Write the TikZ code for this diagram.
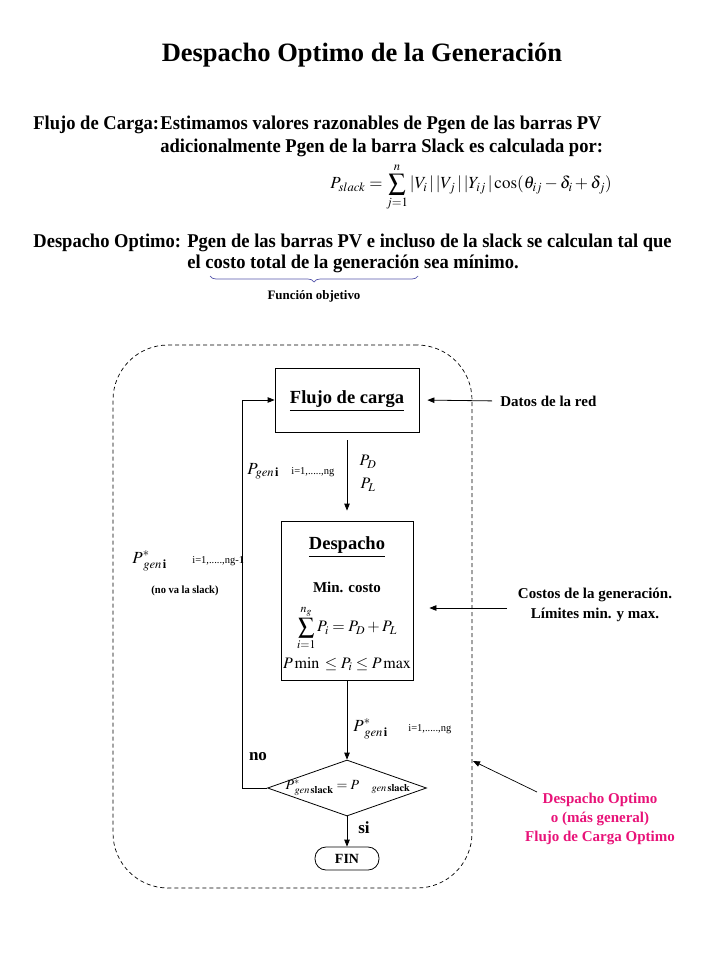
\documentclass[tikz,border=0pt]{standalone}
\usepackage{mathptmx}
\usepackage{fontspec}
\setmainfont{Liberation Serif}
\newfontfamily\cond[FakeStretch=0.95]{Liberation Serif}
\usetikzlibrary{arrows.meta,decorations.pathreplacing,shapes.geometric}
\definecolor{pinkc}{RGB}{232,18,120}
\definecolor{bracec}{RGB}{85,85,170}
\begin{document}
\begin{tikzpicture}[x=1pt,y=-1pt,line width=0.8pt,
  >={Triangle[length=7pt,width=5.5pt]},
  body/.style={font=\cond\bfseries\fontsize{19.5}{22}\selectfont,inner sep=0pt,anchor=base west},
  lab/.style={font=\bfseries\fontsize{15}{18}\selectfont,inner sep=0pt},
  boxt/.style={font=\bfseries\fontsize{18.5}{22}\selectfont,inner sep=0pt},
  mth/.style={font=\fontsize{16}{19}\selectfont,inner sep=0pt},
  rng/.style={font=\fontsize{10.5}{12}\selectfont,inner sep=0pt,anchor=base west}
]
\useasboundingbox (0,0) rectangle (720,960);

% title
\node[font=\bfseries\fontsize{26.5}{30}\selectfont,inner sep=0pt] (title) at (362,55) {Despacho Optimo de la Generación};

% Flujo de carga text
\node[body] (fc) at (33,130) {Flujo de Carga:};
\node[body] (fc1) at (160,130) {Estimamos valores razonables de Pgen de las barras PV};
\node[body] (fc2) at (160,153) {adicionalmente Pgen de la barra Slack es calculada por:};
\node[font=\fontsize{17}{20}\selectfont,inner sep=0pt] (eq) at (471,187) {$\displaystyle P_{slack}=\sum_{j=1}^{n}|V_i\,|\,|V_j\,|\,|Y_{ij}\,|\cos(\theta_{ij}-\delta_i+\delta_j)$};

% Despacho optimo text
\node[body] (do) at (33,247) {Despacho Optimo:};
\node[body] (do1) at (187,247) {Pgen de las barras PV e incluso de la slack se calculan tal que};
\node[body] (do2) at (187,268) {el costo total de la generación sea mínimo.};
\coordinate (bra) at (210,276);
\coordinate (brb) at (418,276);
\draw[bracec,line width=0.7pt,decorate,decoration={brace,mirror,amplitude=6pt}] (bra) -- (brb);
\node[font=\bfseries\fontsize{12.9}{15}\selectfont,inner sep=0pt] (fobj) at (314,296) {Función objetivo};

% dashed frame
\node[draw,dash pattern=on 4pt off 3pt,line width=0.7pt,rounded corners=55pt,minimum width=359pt,minimum height=543pt,inner sep=0pt] (frame) at (292.5,616.5) {};

% boxes
\node[draw,minimum width=144pt,minimum height=64pt,inner sep=0pt] (flujo) at (347,400) {};
\node[boxt] (flujot) at (347,401) {\underline{Flujo de carga}};

\node[draw,minimum width=132pt,minimum height=159pt,inner sep=0pt] (desp) at (347,600.5) {};
\node[boxt] (despt) at (347,547) {\underline{Despacho}};
\node[lab] (minc) at (347,587) {Min. costo};
\node[mth] (sumeq) at (347,628) {$\displaystyle\sum_{i=1}^{n_g} P_i = P_D + P_L$};
\node[mth] (lim) at (347,664) {$P\min\, \le P_i \le P\max$};

\node[draw,shape=diamond,minimum width=159pt,minimum height=56pt,inner sep=0pt] (dia) at (347,788) {};
\node[font=\fontsize{14}{17}\selectfont,inner sep=0pt] (diat) at (348,788) {$P^{*}_{\;gen\,\mathbf{slack}} = P_{\quad gen\,\mathbf{slack}}$};

\node[draw,rounded corners=11pt,minimum width=64pt,minimum height=23pt,inner sep=0pt,font=\bfseries\fontsize{14}{16}\selectfont] (fin) at (347,858.5) {FIN};

% main arrows
\draw[->,shorten <=8pt,shorten >=10pt] (flujo.south) -- (desp.north);
\draw[->] (desp.south) -- (dia.north);
\draw[->] (dia.south) -- (fin.north);
\draw[->] (dia.west) -- ++(-25,0) |- (flujo.west);

% arrow labels
\node[mth] (pd) at (368,462) {$P_D$};
\node[mth] (pl) at (368,485) {$P_L$};
\node[font=\fontsize{17}{20}\selectfont,inner sep=0pt,anchor=base west] (pg) at (247,474) {$P_{gen\,\mathbf{i}}$};
\node[rng] (pgr) at (291,474) {i=1,.....,ng};
\node[font=\fontsize{17}{20}\selectfont,inner sep=0pt,anchor=base west] (ps) at (132,563) {$P^{*}_{\;gen\,\mathbf{i}}$};
\node[rng] (psr) at (192,563) {i=1,.....,ng-1};
\node[font=\cond\bfseries\fontsize{11}{13}\selectfont,inner sep=0pt] (nvs) at (185,591) {(no va la slack)};
\node[font=\fontsize{17}{20}\selectfont,inner sep=0pt,anchor=base west] (pb) at (353,731) {$P^{*}_{\;gen\,\mathbf{i}}$};
\node[rng] (pbr) at (408,731) {i=1,.....,ng};
\node[font=\bfseries\fontsize{17}{20}\selectfont,inner sep=0pt] (no) at (258,757) {no};
\node[font=\bfseries\fontsize{17}{20}\selectfont,inner sep=0pt] (si) at (364,828) {si};

% side inputs
\node[lab,anchor=west] (datos) at (500,401) {Datos de la red};
\draw[->,shorten <=8pt,shorten >=8pt] (datos.west) -- (flujo.east);
\node[lab,align=center] (costos) at (595,605) {Costos de la generación.\\[2pt]Límites min. y max.};
\coordinate (cA) at (507,608);
\draw[->,shorten >=16pt] (cA) -- (cA -| desp.east);

\node[lab,text=pinkc,align=center] (pink) at (600,819) {Despacho Optimo\\[1pt]o (más general)\\[1pt]Flujo de Carga Optimo};
\coordinate (pA) at (537,792);
\coordinate (pB) at (473,761);
\draw[->,line width=0.7pt] (pA) -- (pB);
\end{tikzpicture}
\end{document}
